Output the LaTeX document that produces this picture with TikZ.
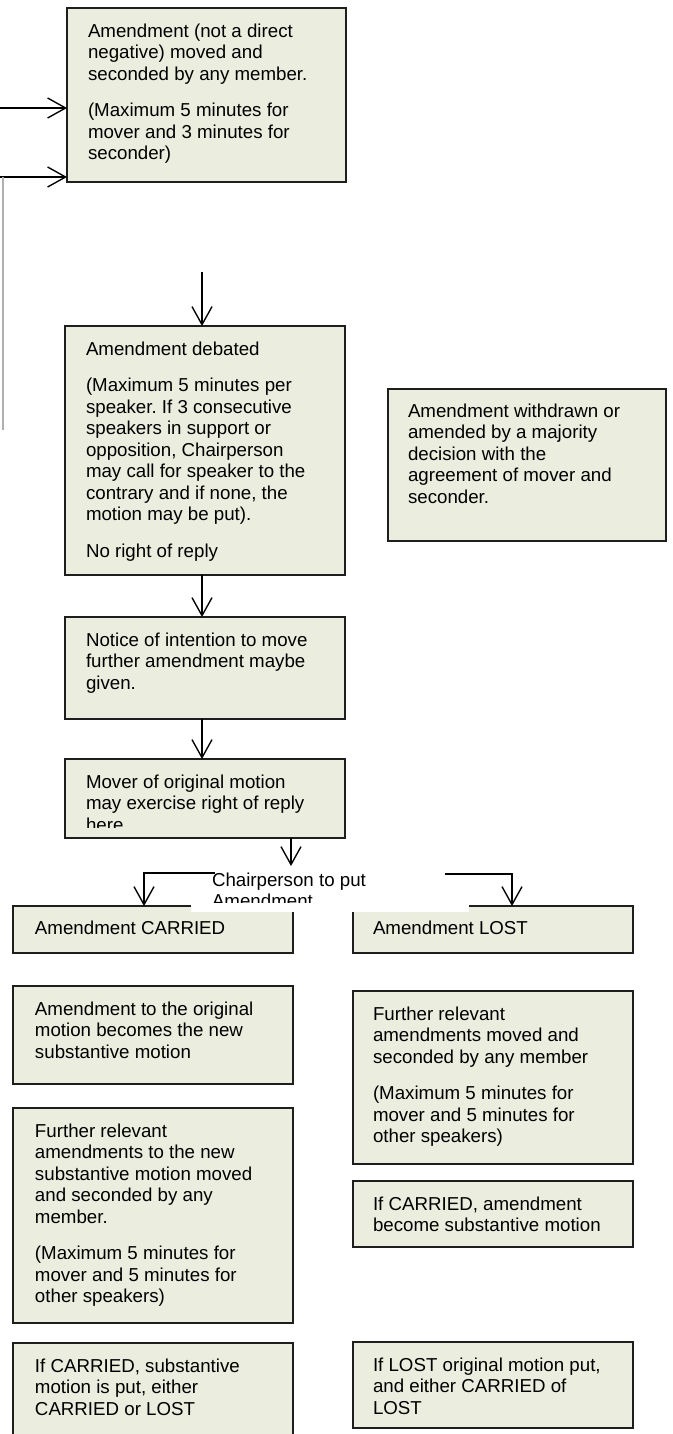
\documentclass[tikz,border=0pt]{standalone}
\usepackage{fontspec}
\setmainfont{Liberation Sans}
\usetikzlibrary{arrows.meta,calc}
\definecolor{boxfill}{RGB}{235,238,222}
\definecolor{boxline}{RGB}{30,30,30}
\definecolor{loopgrey}{RGB}{175,175,175}
\newcommand\topstrut{\rule{0pt}{10pt}}
\frenchspacing
\begin{document}
\begin{tikzpicture}[x=0.588pt,y=-0.588pt,
  bx/.style={draw=boxline, fill=boxfill, line width=1.1pt, inner sep=0pt, outer sep=0pt, anchor=north west, rectangle},
  txt/.style={anchor=north west, inner sep=0pt, outer sep=0pt, align=left, font=\fontsize{11pt}{12.64pt}\selectfont\frenchspacing, text=black},
  arr/.style={draw=black, line width=0.8pt, -{Straight Barb[length=10.6pt,width=11.8pt]}},
  loopline/.style={draw=loopgrey, line width=0.6pt},
]
\useasboundingbox (0,0) rectangle (672,1434);
\clip (0,0) rectangle (672,1434);

% ---- boxes ----
\node[bx, minimum width=279*0.588pt, minimum height=174*0.588pt] (amend) at (67,8) {};
\node[txt] (amendT) at (88,20) {\topstrut Amendment (not a direct\\negative) moved and\\seconded by any member.\\[9.1pt](Maximum 5 minutes for\\mover and 3 minutes for\\seconder)};

\node[bx, minimum width=280*0.588pt, minimum height=249*0.588pt] (debated) at (65,326) {};
\node[txt] (debatedT) at (86,338) {\topstrut Amendment debated\\[9.1pt](Maximum 5 minutes per\\speaker. If 3 consecutive\\speakers in support or\\opposition, Chairperson\\may call for speaker to the\\contrary and if none, the\\motion may be put).\\[9.1pt]No right of reply};

\node[bx, minimum width=278*0.588pt, minimum height=152*0.588pt] (withdrawn) at (388,389) {};
\node[txt] (withdrawnT) at (408,400) {\topstrut Amendment withdrawn or\\amended by a majority\\decision with the\\agreement of mover and\\seconder.};

\node[bx, minimum width=280*0.588pt, minimum height=102*0.588pt] (notice) at (65,617) {};
\node[txt] (noticeT) at (86,629) {\topstrut Notice of intention to move\\further amendment maybe\\given.};

\node[bx, minimum width=280*0.588pt, minimum height=79*0.588pt] (mover) at (65,759) {};
\begin{scope}
\clip (60,750) rectangle (350,827);
\node[txt] (moverT) at (86,771) {\topstrut Mover of original motion\\may exercise right of reply\\here};
\end{scope}

\node[bx, minimum width=280*0.588pt, minimum height=47*0.588pt] (carried) at (13,906) {};
\node[txt] (carriedT) at (35,917) {\topstrut Amendment CARRIED};

\node[bx, minimum width=280*0.588pt, minimum height=47*0.588pt] (lost) at (353,906) {};
\node[txt] (lostT) at (373,917) {\topstrut Amendment LOST};

\node[bx, minimum width=280*0.588pt, minimum height=98*0.588pt] (newsub) at (13,986) {};
\node[txt] (newsubT) at (35,998) {\topstrut Amendment to the original\\motion becomes the new\\substantive motion};

\node[bx, minimum width=280*0.588pt, minimum height=173*0.588pt] (furtherR) at (353,991) {};
\node[txt] (furtherRT) at (373,1003) {\topstrut Further relevant\\amendments moved and\\seconded by any member\\[9.1pt](Maximum 5 minutes for\\mover and 5 minutes for\\other speakers)};

\node[bx, minimum width=280*0.588pt, minimum height=215*0.588pt] (furtherL) at (13,1108) {};
\node[txt] (furtherLT) at (35,1120) {\topstrut Further relevant\\amendments to the new\\substantive motion moved\\and seconded by any\\member.\\[9.1pt](Maximum 5 minutes for\\mover and 5 minutes for\\other speakers)};

\node[bx, minimum width=280*0.588pt, minimum height=66*0.588pt] (ifcarR) at (353,1181) {};
\node[txt] (ifcarRT) at (373,1193) {\topstrut If CARRIED, amendment\\become substantive motion};

\node[bx, minimum width=280*0.588pt, minimum height=110*0.588pt] (ifcarL) at (13,1343) {};
\node[txt] (ifcarLT) at (35,1355) {\topstrut If CARRIED, substantive\\motion is put, either\\CARRIED or LOST};

\node[bx, minimum width=280*0.588pt, minimum height=86*0.588pt] (iflost) at (353,1342) {};
\node[txt] (iflostT) at (373,1354) {\topstrut If LOST original motion put,\\and either CARRIED of\\LOST};

% ---- connectors ----
\coordinate (in1) at (0,108);
\coordinate (in2) at (0,177);
\coordinate (loopTop) at (3,177);
\coordinate (loopBot) at (3,430);
\draw[arr] (in1) -- (in1 -| amend.west);
\draw[arr] (in2) -- (in2 -| amend.west);
\draw[loopline] (loopTop) -- (loopBot);

\coordinate (d0) at (202,272);
\draw[arr] (d0) -- (d0 |- debated.north);
\draw[arr] ($(debated.south)+(-3,0)$) -- ($(notice.north)+(-3,0)$);
\draw[arr] ($(notice.south)+(-3,0)$) -- ($(mover.north)+(-3,0)$);

\coordinate (chairin) at (291,866);
\draw[arr] (chairin |- mover.south) -- (chairin);

\coordinate (cl) at (215,873);
\coordinate (cr) at (445,874);
\draw[arr] (cl) -| ($(carried.north)+(-9,0)$);
\draw[arr] (cr) -| ($(lost.north)+(19,0)$);

% ---- chairperson label (white frame over box tops) ----
\node[fill=white, inner sep=0pt, outer sep=0pt, anchor=north west, minimum width=278*0.588pt, minimum height=36*0.588pt] (chairbg) at (191,876) {};
\begin{scope}
\clip (191,860) rectangle (469,902);
\node[txt] (chair) at (212,869) {\topstrut Chairperson to put\\Amendment};
\end{scope}
\end{tikzpicture}
\end{document}
